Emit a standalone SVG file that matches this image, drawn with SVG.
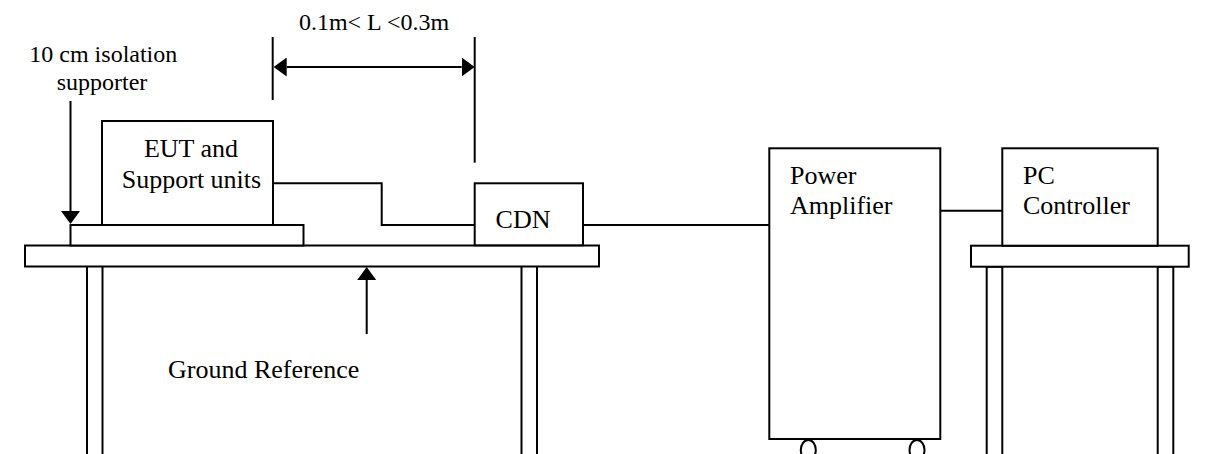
<svg xmlns="http://www.w3.org/2000/svg" width="1220" height="454" viewBox="0 0 1220 454">
<style>
  .s { fill: none; stroke: #000; stroke-width: 2; }
  .b { fill: #fff; stroke: #000; stroke-width: 2; }
  .t { font-family: "Liberation Serif", "Times New Roman", serif; fill: #000; }
  .lg { font-size: 26px; }
  .sm { font-size: 24px; }
</style>
<defs>
  <marker id="ah" viewBox="0 0 13 19" refX="0" refY="9.5" markerWidth="13" markerHeight="19" markerUnits="userSpaceOnUse" orient="auto-start-reverse">
    <path d="M0,0 L13,9.5 L0,19 Z" fill="#000"/>
  </marker>
</defs>
<rect width="1220" height="454" fill="#fff"/>

<g id="left-table">
  <rect class="b" x="87" y="266" width="15.5" height="200"/>
  <rect class="b" x="521.5" y="266" width="15.5" height="200"/>
  <rect class="b" x="25" y="245.5" width="574" height="21"/>
</g>

<g id="supporter">
  <rect class="b" x="70.5" y="225" width="233" height="20.5"/>
</g>

<g id="eut">
  <rect class="b" x="102" y="121" width="171" height="104"/>
  <text class="t lg" x="191" y="157" text-anchor="middle">EUT and</text>
  <text class="t lg" x="191.5" y="188" text-anchor="middle">Support units</text>
</g>

<g id="cdn">
  <rect class="b" x="474.7" y="183.3" width="108.3" height="62"/>
  <text class="t lg" x="523" y="228" text-anchor="middle">CDN</text>
</g>

<g id="power-amplifier">
  <rect class="b" x="769.3" y="148.3" width="171" height="290.7"/>
  <ellipse class="s" cx="808.3" cy="450" rx="7.5" ry="10"/>
  <ellipse class="s" cx="917" cy="450" rx="7.5" ry="10"/>
  <text class="t lg" x="790" y="184.3">Power</text>
  <text class="t lg" x="790" y="214">Amplifier</text>
</g>

<g id="pc-table">
  <rect class="b" x="986.7" y="266.7" width="15.6" height="200"/>
  <rect class="b" x="1157.7" y="266.7" width="15.6" height="200"/>
  <rect class="b" x="971" y="245.7" width="217.7" height="21"/>
</g>

<g id="pc-controller">
  <rect class="b" x="1002.3" y="148.3" width="155.4" height="97.4"/>
  <text class="t lg" x="1023" y="184.3">PC</text>
  <text class="t lg" x="1023" y="214">Controller</text>
</g>

<g id="labels">
  <text class="t sm" x="103.3" y="62" text-anchor="middle">10 cm isolation</text>
  <text class="t sm" x="102" y="89.5" text-anchor="middle">supporter</text>
  <text class="t sm" x="374" y="30" text-anchor="middle">0.1m&lt; L &lt;0.3m</text>
  <text class="t lg" x="168" y="378">Ground Reference</text>
</g>

<g id="connectors">
  <path class="s" d="M273,183.3 H381.7 V225 H474.7"/>
  <path class="s" d="M583,225 H769.3"/>
  <path class="s" d="M940.3,210.7 H1002.3"/>
  <path class="s" d="M272.7,37 V100"/>
  <path class="s" d="M474.7,37 V162.7"/>
  <path class="s" d="M286.7,67 H461.7" marker-start="url(#ah)" marker-end="url(#ah)"/>
  <path class="s" d="M70.5,101 V211" marker-end="url(#ah)"/>
  <path class="s" d="M366.7,334 V280" marker-end="url(#ah)"/>
</g>
</svg>
